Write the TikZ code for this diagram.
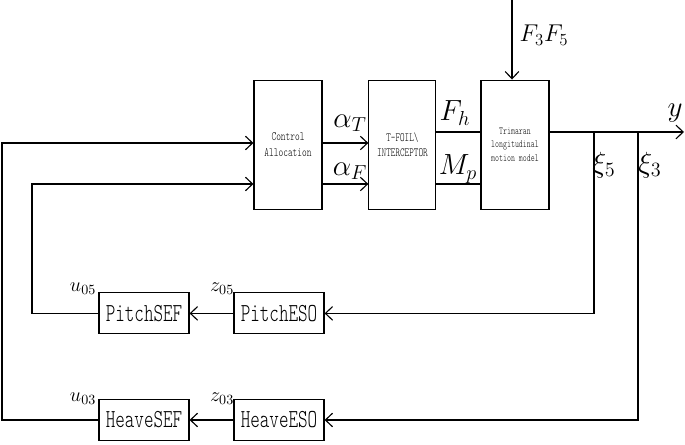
\documentclass[tikz,border=0pt]{standalone}
\usepackage{amsmath,amssymb}
\usepackage{fontspec}
\setmonofont[FakeStretch=0.7]{lmmonolt10-regular.otf}
\usepackage{tikz}
\usetikzlibrary{positioning,arrows.meta}

\tikzset{
  block/.style={draw, thick, minimum width=1.7cm, minimum height=3.225cm, align=center, font=\ttfamily},
  small/.style={draw, thick, minimum width=2.25cm, minimum height=1.025cm, font=\ttfamily\fontsize{18.5}{20}\selectfont},
  sig/.style={font=\fontsize{20}{22}\selectfont},
  lab/.style={font=\fontsize{14.4}{16}\selectfont}
}

\begin{document}
\begin{tikzpicture}[thick, >={Straight Barb[length=1.8mm,width=3.4mm]}]
  % Fix the frame
  \useasboundingbox (0,0) rectangle (17.125,11.125);

  % Draw the main blocks
  \node[block, font=\ttfamily\fontsize{9.1}{11.5}\selectfont] (CA) at (7.2,7.51) {Control\\Allocation};
  \node[block, minimum width=1.675cm, font=\ttfamily\fontsize{8.9}{11}\selectfont] (TF) at (10.06,7.51) {T-FOIL\textbackslash\\INTERCEPTOR};
  \node[block, font=\ttfamily\fontsize{7.7}{9.5}\selectfont] (TM) at (12.875,7.51) {Trimaran\\longitudinal\\motion model};

  % Draw the observer blocks
  \node[small] (PESO) at (6.975,3.29) {PitchESO};
  \node[small] (PSEF) at (3.6,3.29) {PitchSEF};
  \node[small] (HESO) at (6.975,0.625) {HeaveESO};
  \node[small] (HSEF) at (3.6,0.625) {HeaveSEF};

  % Helper coordinates
  \coordinate (upper) at (0,7.55);
  \coordinate (lower) at (0,6.525);
  \coordinate (out) at (0,7.825);
  \coordinate (dist) at (12.8,11.125);
  \coordinate (yend) at (17.1,7.825);
  \coordinate (bx5) at (14.85,7.825);
  \coordinate (bx3) at (15.95,7.825);

  % Forward path
  \draw[->] (CA.east |- upper) -- (TF.west |- upper);
  \draw[->] (CA.east |- lower) -- (TF.west |- lower);
  \draw (TF.east |- out) -- (TM.west |- out);
  \draw (TF.east |- lower) -- (TM.west |- lower);
  \draw[->] (dist) -- (TM.north -| dist);
  \draw[->] (TM.east |- out) -- (yend);

  % Feedback paths
  \draw[->] (bx5) |- (PESO.east);
  \draw[->] (PESO.west) -- (PSEF.east);
  \draw[->] (PSEF.west) -| (0.8,6.525) -- (CA.west |- lower);
  \draw[->] (bx3) |- (HESO.east);
  \draw[->] (HESO.west) -- (HSEF.east);
  \draw[->] (HSEF.west) -| (0.05,7.55) -- (CA.west |- upper);

  % Label the signals
  \node[sig] (aT) at (8.75,8.05) {$\alpha_T$};
  \node[sig] (aF) at (8.75,6.85) {$\alpha_F$};
  \node[sig] (Fh) at (11.375,8.3) {$F_h$};
  \node[sig] (Mp) at (11.45,6.9) {$M_p$};
  \node[sig, font=\fontsize{18}{20}\selectfont] (F35) at (13.6,10.25) {$F_3F_5$};
  \node[sig] (yout) at (16.875,8.3) {$y$};
  \node[sig] (xi5) at (15.1,7.0) {$\xi_5$};
  \node[sig] (xi3) at (16.25,7.0) {$\xi_3$};
  \node[lab] (u05) at (2.075,3.9) {$u_{05}$};
  \node[lab] (z05) at (5.55,3.9) {$z_{05}$};
  \node[lab] (u03) at (2.075,1.15) {$u_{03}$};
  \node[lab] (z03) at (5.55,1.15) {$z_{03}$};
\end{tikzpicture}
\end{document}
